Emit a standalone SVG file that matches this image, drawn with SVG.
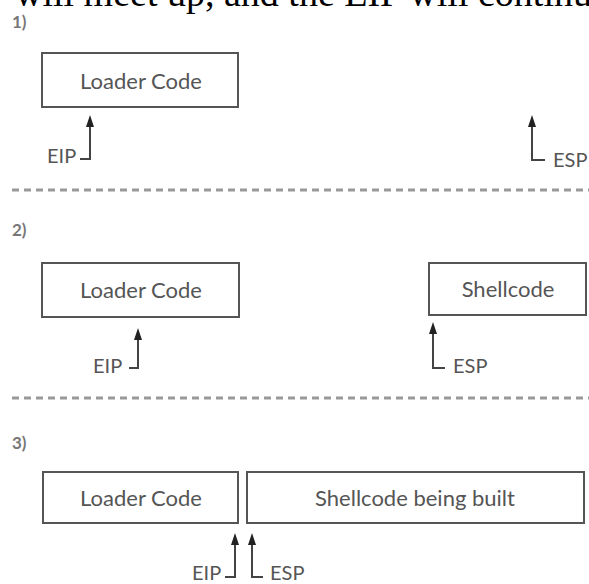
<svg xmlns="http://www.w3.org/2000/svg" width="589" height="584" viewBox="0 0 589 584">
<defs>
<style>
.box{fill:#fff;stroke:#555;stroke-width:2}
.lbl{font-family:Lato,"Open Sans","DejaVu Sans",sans-serif;font-size:22px;fill:#555;text-anchor:middle}
.reg{font-family:Lato,"Open Sans","DejaVu Sans",sans-serif;font-size:20px;fill:#555}
.num{font-family:Lato,"DejaVu Sans",sans-serif;font-size:17px;font-weight:bold;fill:#777}
.ptr{fill:none;stroke:#444;stroke-width:2}
.dash{stroke:#999;stroke-width:3;stroke-dasharray:7 5}
</style>
<marker id="ah" viewBox="0 0 12 8" markerWidth="12" markerHeight="8" refX="8" refY="4" orient="auto" markerUnits="userSpaceOnUse">
<path d="M0,0 L12,4 L0,8 Z" fill="#222"/>
</marker>
</defs>
<rect width="589" height="584" fill="#fff"/>
<text x="15" y="6" font-family="'Liberation Serif',serif" font-size="38" fill="#000">will meet up, and the EIP will continu</text>

<text class="num" x="12" y="28">1)</text>
<text class="num" x="12" y="236">2)</text>
<text class="num" x="12" y="449">3)</text>

<g id="dividers">
<line class="dash" x1="12" y1="190" x2="589" y2="190"/>
<line class="dash" x1="12" y1="398" x2="589" y2="398"/>
</g>

<g id="loader1">
<rect class="box" x="42" y="53" width="196" height="54"/>
<text class="lbl" x="141" y="89">Loader Code</text>
</g>
<g id="loader2">
<rect class="box" x="42" y="263" width="197" height="54"/>
<text class="lbl" x="141" y="298">Loader Code</text>
</g>
<g id="shellcode2">
<rect class="box" x="429" y="263" width="157" height="52"/>
<text class="lbl" x="508" y="297">Shellcode</text>
</g>
<g id="loader3">
<rect class="box" x="43" y="472" width="195" height="51"/>
<text class="lbl" x="141" y="506">Loader Code</text>
</g>
<g id="shellcode3">
<rect class="box" x="247" y="472" width="337" height="51"/>
<text class="lbl" x="415" y="506">Shellcode being built</text>
</g>

<g id="eip1"><text class="reg" x="47" y="163">EIP</text></g>
<g id="esp1"><text class="reg" x="553" y="167">ESP</text></g>
<g id="eip2"><text class="reg" x="93" y="373">EIP</text></g>
<g id="esp2"><text class="reg" x="453" y="373">ESP</text></g>
<g id="eip3"><text class="reg" x="192" y="580">EIP</text></g>
<g id="esp3"><text class="reg" x="270" y="580">ESP</text></g>

<g id="connectors">
<polyline class="ptr" points="80,159 90,159 90,119" marker-end="url(#ah)"/>
<polyline class="ptr" points="545,160 532,160 532,119" marker-end="url(#ah)"/>
<polyline class="ptr" points="129,368 138,368 138,332" marker-end="url(#ah)"/>
<polyline class="ptr" points="445,368 433,368 433,326" marker-end="url(#ah)"/>
<polyline class="ptr" points="225,577 235,577 235,537" marker-end="url(#ah)"/>
<polyline class="ptr" points="263,577 252,577 252,537" marker-end="url(#ah)"/>
</g>
</svg>
